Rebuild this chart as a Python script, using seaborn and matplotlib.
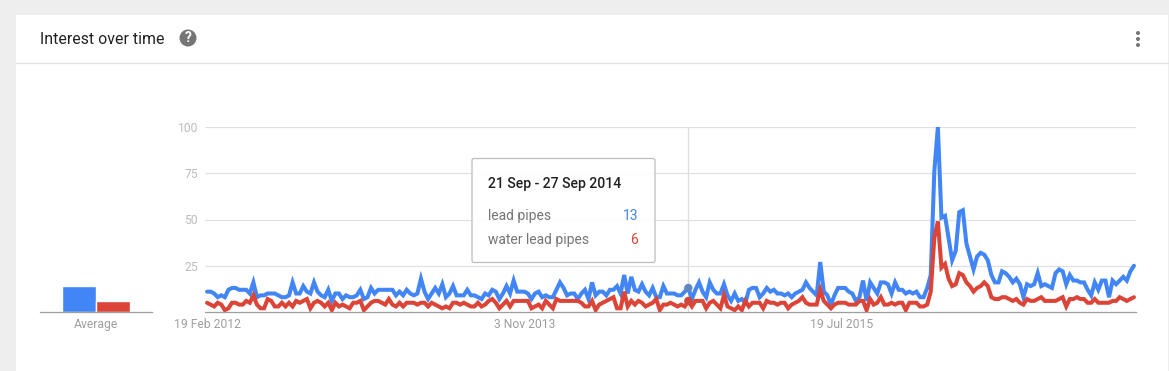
import matplotlib
matplotlib.use('Agg')
import numpy as np
import pandas as pd
import matplotlib.pyplot as plt
from matplotlib.patches import Circle, FancyBboxPatch, Rectangle
import seaborn as sns

# weekly search interest
lead_pipes = [
    11, 11, 10, 8, 9, 8, 12, 13, 13, 12,
    12, 12, 10, 16, 8, 9, 9, 10, 10, 10,
    9, 8, 8, 9, 16, 10, 10, 14, 11, 10,
    16, 11, 9, 8, 12, 6, 10, 10, 7, 9,
    8, 8, 9, 12, 7, 8, 13, 10, 12, 12,
    12, 12, 12, 9, 11, 9, 12, 10, 9, 10,
    18, 11, 7, 10, 13, 10, 15, 8, 10, 14,
    9, 9, 9, 12, 9, 9, 8, 7, 10, 9,
    12, 11, 7, 10, 14, 10, 17, 11, 11, 11,
    10, 7, 10, 11, 8, 9, 8, 8, 12, 16,
    13, 9, 10, 10, 7, 10, 12, 7, 16, 9,
    11, 11, 9, 12, 12, 14, 10, 20, 10, 19,
    12, 11, 15, 11, 9, 13, 8, 8, 14, 10,
    10, 10, 9, 9, 11, 13, 7, 12, 16, 11,
    8, 16, 12, 10, 10, 15, 9, 6, 10, 6,
    7, 5, 12, 13, 13, 8, 10, 13, 11, 12,
    10, 10, 9, 10, 8, 10, 11, 12, 16, 13,
    11, 9, 27, 11, 9, 4, 9, 13, 13, 13,
    11, 10, 6, 8, 17, 6, 16, 13, 10, 16,
    16, 15, 10, 16, 12, 12, 10, 11, 10, 11,
    8, 8, 13, 20, 76, 100, 51, 52, 40, 28,
    33, 54, 55, 37, 30, 23, 30, 32, 31, 28,
    20, 16, 16, 22, 21, 19, 16, 18, 15, 8,
    15, 14, 15, 21, 14, 15, 14, 13, 21, 23,
    22, 15, 20, 17, 17, 16, 16, 12, 9, 16,
    12, 17, 17, 8, 17, 15, 17, 19, 17, 22, 25,
]
water_lead_pipes = [
    5, 4, 3, 5, 4, 1, 2, 5, 5, 4,
    4, 6, 5, 9, 4, 2, 2, 7, 6, 3,
    3, 5, 3, 5, 3, 6, 5, 6, 7, 2,
    5, 6, 5, 3, 5, 1, 5, 3, 4, 3,
    2, 5, 5, 6, 1, 3, 5, 6, 6, 5,
    4, 7, 4, 3, 5, 3, 5, 5, 5, 4,
    5, 5, 3, 5, 4, 3, 2, 3, 2, 5,
    5, 4, 5, 4, 3, 3, 5, 3, 4, 6,
    7, 5, 2, 4, 6, 3, 6, 6, 6, 6,
    6, 2, 3, 4, 2, 6, 4, 2, 7, 6,
    6, 6, 6, 6, 6, 5, 3, 3, 6, 1,
    4, 5, 6, 7, 8, 2, 2, 11, 3, 6,
    4, 6, 5, 3, 4, 5, 7, 1, 4, 4,
    5, 4, 3, 4, 3, 6, 3, 6, 6, 6,
    2, 5, 6, 4, 2, 9, 3, 2, 1, 3,
    1, 6, 3, 5, 5, 5, 2, 6, 5, 5,
    4, 5, 5, 2, 4, 5, 6, 8, 5, 4,
    4, 4, 12, 6, 4, 2, 4, 5, 5, 5,
    4, 4, 4, 6, 6, 1, 7, 4, 5, 8,
    4, 4, 5, 4, 5, 5, 1, 5, 5, 5,
    3, 3, 4, 11, 40, 49, 24, 26, 18, 14,
    15, 21, 20, 16, 14, 11, 13, 14, 16, 14,
    8, 7, 7, 8, 8, 7, 6, 7, 5, 4,
    7, 6, 6, 7, 8, 6, 6, 6, 6, 7,
    8, 3, 7, 7, 8, 7, 7, 5, 5, 7,
    5, 5, 5, 5, 6, 6, 8, 7, 6, 7, 8,
]
terms = ['lead pipes', 'water lead pipes']
averages = [14, 6]
hover_values = [13, 6]
y_ticks = [25, 50, 75, 100]
x_tick_dates = ['2012-02-19', '2013-11-03', '2015-07-19']
x_tick_labels = ['19 Feb 2012', '3 Nov 2013', '19 Jul 2015']
hover_date = '2014-09-21'
hover_title = '21 Sep - 27 Sep 2014'

BLUE = '#4285f4'
RED = '#db4437'
W, H = 1169, 371


def px_axes(fig, left, top, right, bottom, **kw):
    # axes placed by pixel box of the screenshot
    return fig.add_axes([left / W, 1 - bottom / H, (right - left) / W, (bottom - top) / H], **kw)


sns.set_theme(style='white')
plt.rcParams['font.family'] = ['Roboto', 'DejaVu Sans']

dates = pd.date_range('2012-02-19', periods=len(lead_pipes), freq='7D')
df = pd.DataFrame({
    'date': np.tile(dates, 2),
    'term': np.repeat(terms, len(dates)),
    'value': lead_pipes + water_lead_pipes,
})
palette = dict(zip(terms, [BLUE, RED]))

fig = plt.figure(figsize=(W / 100, H / 100), dpi=100, facecolor='#eeeeee')

# page furniture in screenshot pixels
bg = px_axes(fig, 0, 0, W, H)
bg.set_xlim(0, W)
bg.set_ylim(H, 0)
bg.axis('off')
bg.add_patch(Rectangle((16, 15), W - 17, H, fc='white', ec='none'))
bg.plot([16, W - 1], [62.5, 62.5], color='#e0e0e0', lw=0.9)
bg.text(40, 39, 'Interest over time', fontsize=11.4, color='#212121', va='center', ha='left')
bg.add_patch(Circle((188, 38), 8.5, fc='#757575', ec='none'))
bg.text(188, 38.5, '?', fontsize=10, color='white', weight='bold', va='center', ha='center')
for dot_y in [33, 39, 45]:
    bg.add_patch(Circle((1138, dot_y), 2, fc='#757575', ec='none'))

# main chart
ax = px_axes(fig, 205, 127, 1136, 312)
ax.patch.set_alpha(0)
sns.lineplot(data=df, x='date', y='value', hue='term', palette=palette, linewidth=2.9,
             legend=False, ax=ax, estimator=None, solid_joinstyle='miter')
ax.set_xlim(dates[0] - pd.Timedelta(days=4), dates[-1] + pd.Timedelta(days=4))
ax.set_ylim(0, 100)
ax.set_xlabel('')
ax.set_ylabel('')
ax.set_yticks(y_ticks)
ax.set_xticks(pd.to_datetime(x_tick_dates))
ax.set_xticklabels(x_tick_labels, fontsize=8.7, color='#9e9e9e')
ax.tick_params(axis='y', labelsize=8.7, labelcolor='#bdbdbd', length=0, pad=5)
ax.tick_params(axis='x', length=0, pad=4)
ax.yaxis.grid(True, color='#e0e0e0', lw=0.9)
ax.set_axisbelow(True)
sns.despine(ax=ax, left=True, right=True, top=True)
ax.spines['bottom'].set_color('#9e9e9e')
ax.spines['bottom'].set_linewidth(0.9)

# hover crosshair and points
hover = pd.Timestamp(hover_date)
ax.axvline(hover, color='#dddddd', lw=0.9, zorder=1)
hover_df = pd.DataFrame({'date': [hover, hover], 'term': terms, 'value': hover_values})
sns.scatterplot(data=hover_df, x='date', y='value', hue='term', palette=['#5f87c4', '#d0483a'],
                s=36, linewidth=0, legend=False, ax=ax, zorder=5)
ax.set_xlabel('')
ax.set_ylabel('')

# average bars
ax_avg = px_axes(fig, 39.5, 127, 151.5, 312)
ax_avg.patch.set_alpha(0)
sns.barplot(x=terms, y=averages, hue=terms, palette=palette, width=1.0, legend=False,
            saturation=1, ax=ax_avg)
half = 112 / 34 / 2
ax_avg.set_xlim(0.5 - half, 0.5 + half)
ax_avg.set_ylim(0, 100)
ax_avg.set_yticks([])
ax_avg.set_xticks([0.5])
ax_avg.set_xticklabels(['Average'], fontsize=8.7, color='#9e9e9e')
ax_avg.tick_params(axis='x', length=0, pad=4)
sns.despine(ax=ax_avg, left=True, right=True, top=True)
ax_avg.spines['bottom'].set_color('#9e9e9e')
ax_avg.spines['bottom'].set_linewidth(0.9)

# tooltip on top of everything
over = px_axes(fig, 0, 0, W, H)
over.set_xlim(0, W)
over.set_ylim(H, 0)
over.axis('off')
over.set_zorder(10)
over.add_patch(FancyBboxPatch((472, 158.5), 183, 104, boxstyle='round,pad=0,rounding_size=2',
                              fc=(1, 1, 1, 0.95), ec='#bdbdbd', lw=0.9))
over.text(488, 184, hover_title, fontsize=10.1, color='#212121', weight='medium', va='center')
over.text(488, 216, terms[0], fontsize=10, color='#757575', va='center')
over.text(488, 240, terms[1], fontsize=10, color='#757575', va='center')
over.text(638, 216, str(hover_values[0]), fontsize=10, color=BLUE, va='center', ha='right')
over.text(638, 240, str(hover_values[1]), fontsize=10, color=RED, va='center', ha='right')

fig.savefig('out.png', dpi=100, facecolor=fig.get_facecolor())
